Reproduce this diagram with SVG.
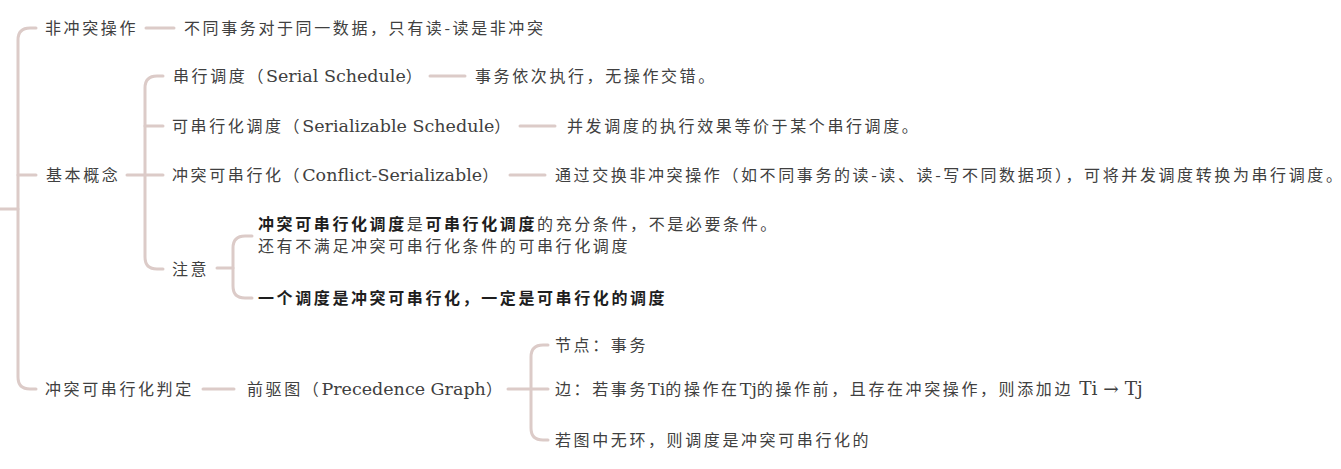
<svg xmlns="http://www.w3.org/2000/svg" width="1341" height="469" viewBox="0 0 1341 469">
<style>
.t{font-family:"Noto Sans CJK SC","Noto Sans CJK TC",sans-serif;font-size:16px;fill:#404040;letter-spacing:2.6px}
.b{font-weight:bold;fill:#1e1e1e}
.en{font-family:"DejaVu Serif","Noto Sans CJK SC",serif;font-size:17.5px;letter-spacing:0}
.big{font-size:18.5px}
.ln{fill:none;stroke:#dccbc8;stroke-width:3;stroke-linecap:round}
</style>
<rect width="1341" height="469" fill="#ffffff"/>
<g id="connectors">
<path class="ln" d="M0,209 H18"/>
<path class="ln" d="M36,28 H30 Q18,28 18,40 V377 Q18,389 30,389 H36"/>
<path class="ln" d="M18,175 H36"/>
<path class="ln" d="M146,28 H174"/>
<path class="ln" d="M127,175 H163"/>
<path class="ln" d="M163,76 H157 Q145,76 145,88 V257 Q145,269 157,269 H163"/>
<path class="ln" d="M145,126 H163"/>
<path class="ln" d="M430,76 H465"/>
<path class="ln" d="M520,126 H555"/>
<path class="ln" d="M510,175 H545"/>
<path class="ln" d="M217,268 H233"/>
<path class="ln" d="M252,236 H245 Q233,236 233,248 V286 Q233,298 245,298 H252"/>
<path class="ln" d="M203,389 H234"/>
<path class="ln" d="M508,389 H548"/>
<path class="ln" d="M548,345 H543 Q531,345 531,357 V428 Q531,440 543,440 H548"/>
</g>
<g id="n-nonconflict"><text class="t" x="45" y="34">非冲突操作</text></g>
<g id="n-nonconflict-d"><text class="t" x="184" y="34">不同事务对于同一数据，只有读-读是非冲突</text></g>
<g id="n-basic"><text class="t" x="46" y="181">基本概念</text></g>
<g id="n-serial"><text class="t" x="173" y="82">串行调度（<tspan class="en">Serial Schedule</tspan>）</text></g>
<g id="n-serial-d"><text class="t" x="475" y="82">事务依次执行，无操作交错。</text></g>
<g id="n-serializable"><text class="t" x="172" y="132">可串行化调度（<tspan class="en">Serializable Schedule</tspan>）</text></g>
<g id="n-serializable-d"><text class="t" x="567" y="132">并发调度的执行效果等价于某个串行调度。</text></g>
<g id="n-conflict"><text class="t" x="172" y="181">冲突可串行化（<tspan class="en">Conflict-Serializable</tspan>）</text></g>
<g id="n-conflict-d"><text class="t" x="555" y="181">通过交换非冲突操作（如不同事务的读-读、读-写不同数据项），可将并发调度转换为串行调度。</text></g>
<g id="n-note"><text class="t" x="172" y="275">注意</text></g>
<g id="n-note-1"><text class="t" x="258" y="230"><tspan class="b">冲突可串行化调度</tspan>是<tspan class="b">可串行化调度</tspan>的充分条件，不是必要条件。</text><text class="t" x="258" y="252">还有不满足冲突可串行化条件的可串行化调度</text></g>
<g id="n-note-2"><text class="t b" x="258" y="304">一个调度是冲突可串行化，一定是可串行化的调度</text></g>
<g id="n-judge"><text class="t" x="45" y="395">冲突可串行化判定</text></g>
<g id="n-pg"><text class="t" x="247" y="395">前驱图（<tspan class="en">Precedence Graph</tspan>）</text></g>
<g id="n-pg-node"><text class="t" x="555" y="351">节点：事务</text></g>
<g id="n-pg-edge"><text class="t" x="555" y="395">边：若事务<tspan class="en">Ti</tspan>的操作在<tspan class="en">Tj</tspan>的操作前，且存在冲突操作，则添加边 <tspan class="en big">Ti → Tj</tspan></text></g>
<g id="n-pg-acyclic"><text class="t" x="555" y="446">若图中无环，则调度是冲突可串行化的</text></g>
</svg>
